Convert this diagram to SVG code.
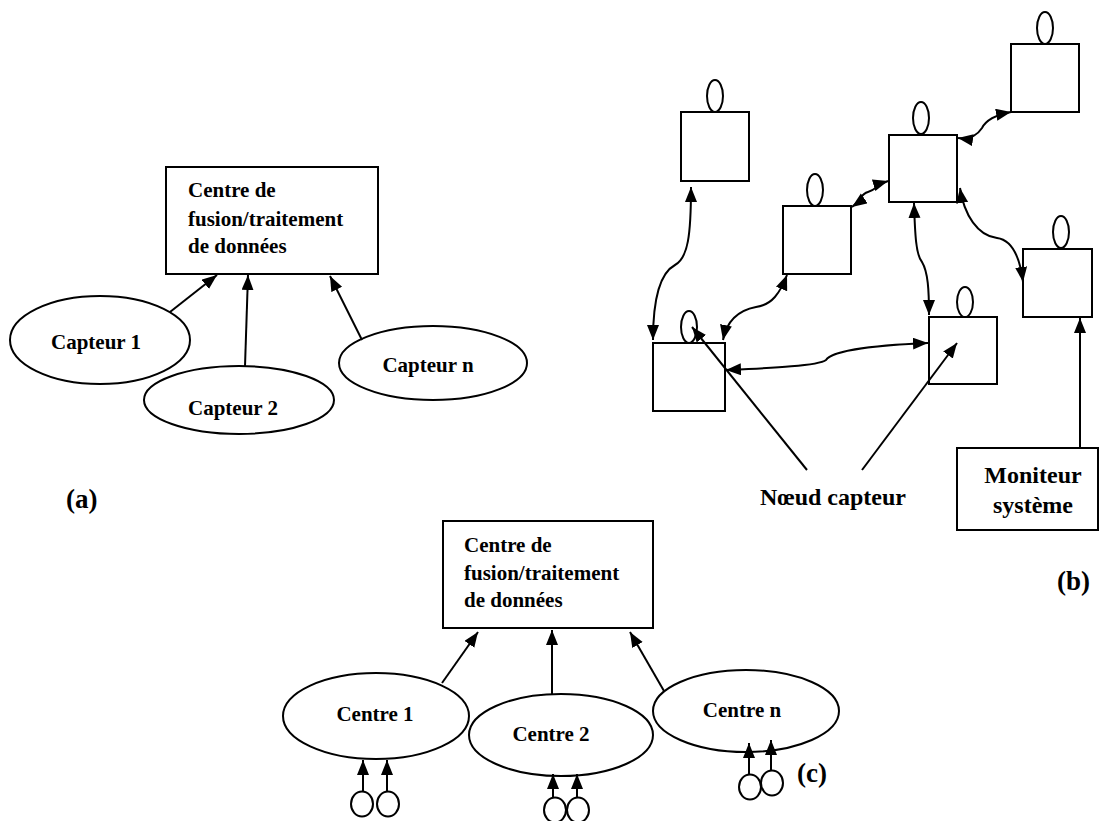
<svg xmlns="http://www.w3.org/2000/svg" width="1100" height="821" viewBox="0 0 1100 821">
  <style>
    .shape { fill: #fff; stroke: #000; stroke-width: 2; }
    .conn { fill: none; stroke: #000; stroke-width: 2; }
    .txt { font-family: "Liberation Serif", "Times New Roman", serif; font-weight: bold; font-size: 21px; fill: #000; }
    .big { font-size: 24px; }
    .tag { font-size: 27px; }
    .mid { text-anchor: middle; }
  </style>
  <defs>
    <marker id="arrow" markerUnits="userSpaceOnUse" markerWidth="18" markerHeight="14" refX="15" refY="6" orient="auto-start-reverse">
      <path d="M0,0 L15,6 L0,12 z" fill="#000"/>
    </marker>
  </defs>
  <rect width="1100" height="821" fill="#fff"/>

  <!-- (a) centralised fusion -->
  <g id="a-centre">
    <rect class="shape" x="166" y="167" width="212" height="107"/>
    <text class="txt" x="188" y="197">Centre de</text>
    <text class="txt" x="188" y="226">fusion/traitement</text>
    <text class="txt" x="188" y="253">de données</text>
  </g>
  <g id="a-capteur1">
    <ellipse class="shape" cx="100" cy="340" rx="90" ry="44"/>
    <text class="txt mid" x="96" y="349">Capteur 1</text>
  </g>
  <g id="a-capteur2">
    <ellipse class="shape" cx="239" cy="400" rx="95" ry="34"/>
    <text class="txt mid" x="233" y="415">Capteur 2</text>
  </g>
  <g id="a-capteurn">
    <ellipse class="shape" cx="433" cy="363" rx="94" ry="37"/>
    <text class="txt mid" x="428" y="372">Capteur n</text>
  </g>
  <text id="label-a" class="txt tag" x="66" y="508">(a)</text>

  <!-- (b) sensor network -->
  <g id="b-node1">
    <rect class="shape" x="681" y="112" width="68" height="69"/>
    <ellipse class="shape" cx="715" cy="96" rx="8" ry="16"/>
  </g>
  <g id="b-node2">
    <rect class="shape" x="783" y="206" width="68" height="68"/>
    <ellipse class="shape" cx="815" cy="190" rx="8" ry="16"/>
  </g>
  <g id="b-node3">
    <rect class="shape" x="889" y="135" width="68" height="67"/>
    <ellipse class="shape" cx="921" cy="118" rx="8" ry="16"/>
  </g>
  <g id="b-node4">
    <rect class="shape" x="1011" y="44" width="68" height="68"/>
    <ellipse class="shape" cx="1045" cy="28" rx="8" ry="16"/>
  </g>
  <g id="b-node5">
    <rect class="shape" x="1023" y="249" width="69" height="68"/>
    <ellipse class="shape" cx="1061" cy="232" rx="8" ry="16"/>
  </g>
  <g id="b-node6">
    <rect class="shape" x="653" y="343" width="72" height="68"/>
    <ellipse class="shape" cx="689" cy="327" rx="8" ry="16"/>
  </g>
  <g id="b-node7">
    <rect class="shape" x="929" y="317" width="68" height="67"/>
    <ellipse class="shape" cx="965" cy="302" rx="8" ry="15"/>
  </g>
  <g id="b-moniteur">
    <rect class="shape" x="957" y="448" width="141" height="82"/>
    <text class="txt big mid" x="1033" y="483">Moniteur</text>
    <text class="txt big mid" x="1033" y="513">système</text>
  </g>
  <text id="b-noeud" class="txt big" x="760" y="505">Nœud capteur</text>
  <text id="label-b" class="txt tag" x="1057" y="590">(b)</text>

  <!-- (c) hierarchical fusion -->
  <g id="c-centre">
    <rect class="shape" x="443" y="521" width="210" height="107"/>
    <text class="txt" x="464" y="552">Centre de</text>
    <text class="txt" x="464" y="580">fusion/traitement</text>
    <text class="txt" x="464" y="607">de données</text>
  </g>
  <g id="c-centre1">
    <ellipse class="shape" cx="376" cy="716" rx="93" ry="43"/>
    <text class="txt mid" x="375" y="721">Centre 1</text>
    <ellipse class="shape" cx="362" cy="804" rx="11" ry="12.5"/>
    <ellipse class="shape" cx="388" cy="804" rx="11" ry="12.5"/>
  </g>
  <g id="c-centre2">
    <ellipse class="shape" cx="561" cy="735" rx="92" ry="41"/>
    <text class="txt mid" x="551" y="741">Centre 2</text>
    <ellipse class="shape" cx="555" cy="810" rx="11" ry="12.5"/>
    <ellipse class="shape" cx="578" cy="810" rx="11" ry="12.5"/>
  </g>
  <g id="c-centren">
    <ellipse class="shape" cx="746" cy="711" rx="93" ry="41"/>
    <text class="txt mid" x="742" y="717">Centre n</text>
    <ellipse class="shape" cx="750" cy="787" rx="11" ry="12.5"/>
    <ellipse class="shape" cx="772" cy="783" rx="11" ry="12.5"/>
  </g>
  <text id="label-c" class="txt tag" x="797" y="782">(c)</text>

  <!-- connectors -->
  <g id="connectors">
    <!-- (a) -->
    <path class="conn" d="M170,312 L217,275" marker-end="url(#arrow)"/>
    <path class="conn" d="M245,366 L248,275" marker-end="url(#arrow)"/>
    <path class="conn" d="M362,340 L330,276" marker-end="url(#arrow)"/>
    <!-- (b) radio links -->
    <path class="conn" d="M691,187 C691,235 688,258 675,265 C660,273 653,300 653,340" marker-start="url(#arrow)" marker-end="url(#arrow)"/>
    <path class="conn" d="M787,275 C780,293 772,305 756,307 C740,310 727,320 723,340" marker-start="url(#arrow)" marker-end="url(#arrow)"/>
    <path class="conn" d="M852,207 C862,200 860,194 868,192 S878,184 888,181" marker-start="url(#arrow)" marker-end="url(#arrow)"/>
    <path class="conn" d="M958,138 C972,140 978,134 982,128 C986,120 995,115 1011,112" marker-start="url(#arrow)" marker-end="url(#arrow)"/>
    <path class="conn" d="M914,203 C915,235 916,255 922,262 C928,272 929,290 929,315" marker-start="url(#arrow)" marker-end="url(#arrow)"/>
    <path class="conn" d="M960,188 C964,215 978,236 997,238 C1012,240 1020,258 1023,282" marker-start="url(#arrow)" marker-end="url(#arrow)"/>
    <path class="conn" d="M726,370 C770,368 818,366 826,360 C832,350 880,345 928,343" marker-start="url(#arrow)" marker-end="url(#arrow)"/>
    <!-- (b) pointers -->
    <path class="conn" d="M807,470 L692,327" marker-end="url(#arrow)"/>
    <path class="conn" d="M862,470 L957,343" marker-end="url(#arrow)"/>
    <path class="conn" d="M1080,448 L1080,318" marker-end="url(#arrow)"/>
    <!-- (c) -->
    <path class="conn" d="M442,683 L478,632" marker-end="url(#arrow)"/>
    <path class="conn" d="M552,694 L552,630" marker-end="url(#arrow)"/>
    <path class="conn" d="M664,691 L630,632" marker-end="url(#arrow)"/>
    <path class="conn" d="M363,792 L363,760" marker-end="url(#arrow)"/>
    <path class="conn" d="M387,792 L387,760" marker-end="url(#arrow)"/>
    <path class="conn" d="M553,798 L553,774" marker-end="url(#arrow)"/>
    <path class="conn" d="M577,798 L577,774" marker-end="url(#arrow)"/>
    <path class="conn" d="M749,775 L749,743" marker-end="url(#arrow)"/>
    <path class="conn" d="M771,771 L771,740" marker-end="url(#arrow)"/>
  </g>
</svg>
